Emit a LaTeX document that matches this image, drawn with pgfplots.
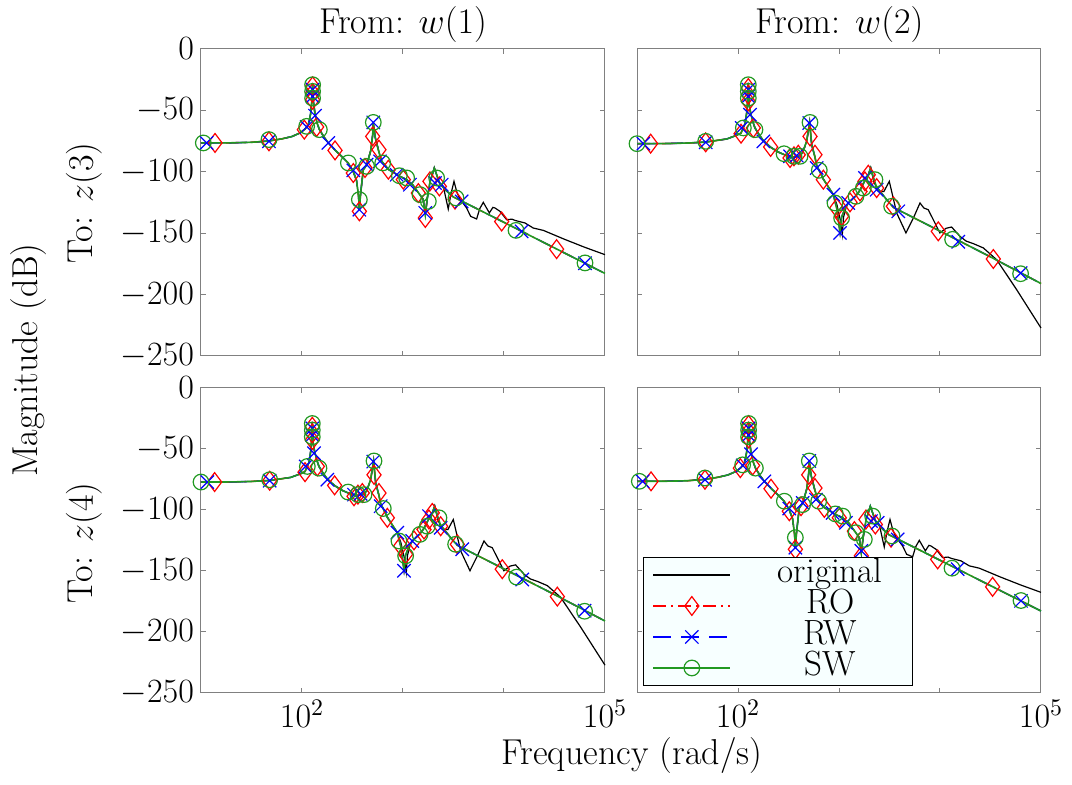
\RequirePackage{fix-cm}
\documentclass[border=0pt]{standalone}
\usepackage{pgfplots}
\pgfplotsset{compat=1.18}
\usepackage{pgfplotstable}

\definecolor{mgreen}{rgb}{0.13,0.6,0.13}
\definecolor{legbg}{rgb}{0.97,1,1}

% ---------- shape A (z3<-w1, z4<-w2) ----------
\pgfplotstableread{
x y
1.000 -76.5
1.300 -76.4
1.500 -76.0
1.673 -74.9
1.800 -73.2
1.900 -71.3
1.980 -68.4
2.030 -65.2
2.063 -61.6
2.085 -53.0
2.098 -42.0
2.105 -28.0
2.112 -42.0
2.128 -52.5
2.150 -60.5
2.172 -65.5
2.220 -72.0
2.261 -76.5
2.327 -82.3
2.400 -88.0
2.459 -93.0
2.508 -100.0
2.540 -107.0
2.560 -120.0
2.568 -131.0
2.580 -118.0
2.607 -98.3
2.640 -94.5
2.680 -83.0
2.700 -70.0
2.706 -60.0
2.725 -72.0
2.762 -84.0
2.790 -91.5
2.855 -98.0
2.904 -100.5
2.964 -103.5
3.036 -106.4
3.100 -111.0
3.152 -117.0
3.200 -122.5
3.221 -135.0
3.240 -122.0
3.267 -108.5
3.310 -96.9
3.340 -104.0
3.366 -110.0
3.430 -115.5
3.498 -120.5
3.597 -124.5
4.000 -141.2
4.500 -162.0
5.000 -182.8
}\lineA

\pgfplotstableread{
x y
1.000 -76.5
1.300 -76.4
1.500 -76.0
1.673 -74.9
1.800 -73.2
1.900 -71.3
1.980 -68.4
2.030 -65.2
2.063 -61.6
2.085 -53.0
2.098 -42.0
2.105 -28.0
2.112 -42.0
2.128 -52.5
2.150 -60.5
2.172 -65.5
2.220 -72.0
2.261 -76.5
2.327 -82.3
2.400 -88.0
2.459 -93.0
2.508 -100.0
2.540 -107.0
2.560 -120.0
2.568 -131.0
2.580 -118.0
2.607 -98.3
2.640 -94.5
2.680 -83.0
2.700 -70.0
2.706 -60.0
2.725 -72.0
2.762 -84.0
2.790 -91.5
2.855 -98.0
2.904 -100.5
2.964 -103.5
3.036 -106.4
3.100 -111.0
3.152 -117.0
3.200 -122.5
3.221 -135.0
3.240 -122.0
3.267 -108.5
3.310 -96.9
3.340 -104.0
3.366 -110.0
3.399 -111.9
3.448 -130.3
3.475 -118.0
3.505 -107.8
3.535 -117.0
3.564 -122.1
3.630 -129.5
3.670 -136.3
3.729 -138.4
3.760 -130.0
3.795 -124.9
3.855 -133.5
3.890 -129.0
3.911 -129.5
3.960 -132.2
4.026 -139.0
4.080 -138.6
4.109 -139.6
4.208 -141.7
4.290 -145.8
4.389 -147.7
4.600 -155.0
4.800 -161.5
5.000 -167.5
}\origA

\pgfplotstableread{
x y
1.139 -76.5
1.673 -75.2
2.023 -65.7
2.105 -30.4
2.105 -35.8
2.105 -41.3
2.145 -63.5
2.327 -82.6
2.508 -101.0
2.568 -132.2
2.624 -96.9
2.700 -71.2
2.762 -82.0
2.855 -98.3
3.003 -106.4
3.152 -117.3
3.221 -137.6
3.267 -107.8
3.360 -111.9
3.515 -122.7
3.977 -140.5
4.521 -163.0
}\roA

\pgfplotstableread{
x y
1.056 -76.5
1.673 -75.2
2.046 -63.5
2.105 -33.1
2.105 -38.6
2.129 -54.3
2.261 -76.5
2.508 -98.8
2.568 -130.9
2.640 -94.2
2.706 -59.8
2.772 -91.5
2.937 -102.4
3.069 -110.5
3.221 -133.5
3.317 -109.1
3.383 -110.5
3.581 -124.1
4.175 -148.5
4.802 -174.5
}\rwA

\pgfplotstableread{
x y
1.023 -76.5
1.673 -73.8
2.046 -63.0
2.105 -29.1
2.105 -34.5
2.105 -40.0
2.172 -65.7
2.459 -92.8
2.568 -122.7
2.640 -95.6
2.706 -59.8
2.799 -92.8
2.964 -103.2
3.036 -105.0
3.168 -118.6
3.251 -124.1
3.333 -105.0
3.525 -121.3
4.119 -147.7
4.802 -174.2
}\swA

% ---------- shape B (z3<-w2, z4<-w1) ----------
\pgfplotstableread{
x y
1.000 -77.1
1.300 -77.0
1.500 -76.6
1.680 -75.8
1.888 -73.3
1.980 -70.5
2.030 -68.5
2.050 -64.5
2.069 -61.0
2.090 -50.0
2.102 -27.7
2.110 -45.0
2.125 -52.1
2.150 -60.0
2.168 -64.3
2.210 -70.0
2.251 -74.5
2.323 -80.0
2.400 -84.0
2.465 -86.3
2.515 -87.8
2.554 -88.0
2.597 -87.5
2.640 -84.5
2.680 -75.0
2.709 -60.0
2.730 -78.0
2.762 -88.0
2.779 -95.0
2.805 -99.0
2.845 -106.0
2.944 -118.6
2.960 -124.0
2.977 -129.5
3.010 -149.0
3.026 -137.0
3.059 -130.0
3.092 -125.4
3.168 -119.5
3.208 -115.0
3.257 -107.0
3.290 -102.5
3.314 -96.9
3.345 -106.0
3.373 -112.5
3.472 -122.7
3.538 -129.0
4.000 -148.3
4.500 -169.3
5.000 -191.0
}\lineB

\pgfplotstableread{
x y
1.000 -77.1
1.300 -77.0
1.500 -76.6
1.680 -75.8
1.888 -73.3
1.980 -70.5
2.030 -68.5
2.050 -64.5
2.069 -61.0
2.090 -50.0
2.102 -27.7
2.110 -45.0
2.125 -52.1
2.150 -60.0
2.168 -64.3
2.210 -70.0
2.251 -74.5
2.323 -80.0
2.400 -84.0
2.465 -86.3
2.515 -87.8
2.554 -88.0
2.597 -87.5
2.640 -84.5
2.680 -75.0
2.709 -60.0
2.730 -78.0
2.762 -88.0
2.779 -95.0
2.805 -99.0
2.845 -106.0
2.944 -118.6
2.980 -127.0
3.015 -140.0
3.033 -151.0
3.045 -137.0
3.070 -129.0
3.092 -125.4
3.168 -119.5
3.208 -115.0
3.257 -107.0
3.290 -102.5
3.314 -96.9
3.345 -108.0
3.389 -116.0
3.445 -116.0
3.498 -107.8
3.571 -133.5
3.663 -149.8
3.740 -137.0
3.802 -125.4
3.840 -129.5
3.884 -130.9
3.999 -149.8
4.060 -146.0
4.115 -145.0
4.198 -152.6
4.260 -156.5
4.330 -158.5
4.429 -162.0
4.561 -171.6
4.759 -196.0
5.000 -227.2
}\origB

\pgfplotstableread{
x y
1.135 -77.1
1.680 -76.0
2.030 -69.0
2.102 -31.8
2.102 -37.2
2.102 -42.7
2.152 -64.3
2.323 -79.8
2.515 -88.8
2.554 -87.4
2.597 -86.1
2.713 -71.2
2.762 -86.1
2.845 -106.4
2.977 -129.5
3.026 -136.3
3.109 -124.9
3.208 -116.0
3.257 -107.8
3.290 -102.4
3.373 -113.3
3.538 -128.1
3.983 -148.5
4.528 -171.0
}\roB

\pgfplotstableread{
x y
1.063 -77.1
1.680 -76.0
2.036 -64.3
2.102 -33.1
2.102 -38.6
2.119 -53.5
2.251 -75.2
2.515 -87.4
2.581 -86.8
2.706 -60.3
2.779 -96.9
2.944 -118.6
3.010 -149.8
3.092 -125.4
3.257 -105.0
3.373 -114.6
3.587 -132.2
4.181 -157.0
4.798 -182.5
}\rwB

\pgfplotstableread{
x y
1.000 -77.1
1.680 -75.2
2.053 -64.3
2.102 -29.1
2.102 -34.5
2.102 -40.0
2.168 -65.7
2.456 -85.3
2.554 -87.4
2.614 -87.4
2.713 -59.8
2.805 -98.8
2.960 -125.4
3.026 -137.6
3.168 -120.0
3.241 -113.3
3.356 -106.4
3.521 -128.1
4.125 -155.0
4.798 -183.0
}\swB

\tikzset{
  rostyle/.style={red, line width=0.7pt, dash pattern=on 6.5pt off 2.5pt on 1pt off 2.5pt},
  rwstyle/.style={blue, line width=0.7pt, dash pattern=on 9pt off 5pt},
  swstyle/.style={mgreen, line width=0.8pt},
  romark/.style={red, mark=diamond, mark size=4.7pt, mark options={solid, line width=0.6pt}},
  rwmark/.style={blue, mark=x, mark size=4.7pt, mark options={solid, line width=0.6pt}},
  swmark/.style={mgreen, mark=o, mark size=3.9pt, mark options={solid, line width=0.6pt}},
}

\newcommand{\drawseries}[5]{%
  \addplot[black, line width=0.6pt, forget plot] table {#1};
  \addplot[rostyle, forget plot] table {#2};
  \addplot[only marks, romark, forget plot] table {#3};
  \addplot[rwstyle, forget plot] table {#2};
  \addplot[only marks, rwmark, forget plot] table {#4};
  \addplot[swstyle, forget plot] table {#2};
  \addplot[only marks, swmark, forget plot] table {#5};
}

\pgfplotsset{
  bode/.style={
    scale only axis, width=202pt,
    xmin=1, xmax=5, ymin=-250, ymax=0,
    xtick={1,2,3,4,5}, xticklabels={},
    ytick={-250,-200,-150,-100,-50,0}, yticklabels={},
    axis line style={draw=black!50, line width=0.5pt},
    tick style={draw=black!50, line width=0.5pt},
    major tick length=2.5pt, tick align=inside,
    clip=false,
    tick label style={font=\fontsize{17}{17}\selectfont},
    legend image code/.code={\path (-3.5pt,0pt) (48pt,0pt);\draw[mark repeat=2,mark phase=2] plot coordinates {(0pt,0pt) (19.25pt,0pt) (38.5pt,0pt)};},
  },
  xlab/.style={xticklabels={,$10^2$,,,$10^5$}},
  ylab/.style={yticklabels={$-250$,$-200$,$-150$,$-100$,$-50$,$0$}},
}

\begin{document}
\begin{tikzpicture}
% top-left
\begin{axis}[bode, ylab, height=153.5pt, at={(0pt,168.5pt)}, anchor=south west]
\drawseries{\origA}{\lineA}{\roA}{\rwA}{\swA}
\end{axis}
% top-right
\begin{axis}[bode, height=153.5pt, at={(218pt,168.5pt)}, anchor=south west]
\drawseries{\origB}{\lineB}{\roB}{\rwB}{\swB}
\end{axis}
% bottom-left
\begin{axis}[bode, ylab, xlab, height=152.5pt, at={(0pt,0pt)}, anchor=south west]
\drawseries{\origB}{\lineB}{\roB}{\rwB}{\swB}
\end{axis}
% bottom-right
\begin{axis}[bode, xlab, height=152.5pt, at={(218pt,0pt)}, anchor=south west,
  legend style={at={(0.015,0.023)}, anchor=south west, fill=legbg, draw=black,
    line width=0.5pt, inner sep=1pt, row sep=0pt,
    font=\fontsize{17.5}{17.5}\selectfont,
    nodes={text width=78pt, align=center, inner xsep=1pt, inner ysep=0.5pt, text height=11pt, text depth=3.5pt}},
  legend cell align=center]
\drawseries{\origA}{\lineA}{\roA}{\rwA}{\swA}
\addlegendimage{black, line width=0.6pt}
\addlegendentry{original}
\addlegendimage{rostyle, romark}
\addlegendentry{RO}
\addlegendimage{rwstyle, rwmark}
\addlegendentry{RW}
\addlegendimage{swstyle, swmark}
\addlegendentry{SW}
\end{axis}

\begin{scope}[every node/.style={font=\fontsize{18}{18}\selectfont}]
\node[anchor=base] at (101pt,329.5pt) {From: $w(1)$};
\node[anchor=base] at (319.25pt,329.5pt) {From: $w(2)$};
\node[rotate=90] at (-58.5pt,245pt) {To: $z(3)$};
\node[rotate=90] at (-58.5pt,75pt) {To: $z(4)$};
\node[rotate=90] at (-86pt,166.5pt) {Magnitude (dB)};
\node[anchor=base] at (215.5pt,-36pt) {Frequency (rad/s)};
\end{scope}

\pgfresetboundingbox
\useasboundingbox (-100.5pt,-46pt) rectangle (435.5pt,346.5pt);
\end{tikzpicture}
\end{document}
